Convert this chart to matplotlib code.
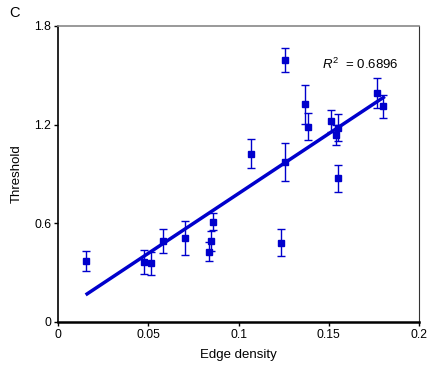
import matplotlib
matplotlib.use('Agg')
import matplotlib.pyplot as plt

plt.rcParams['font.family'] = ['Liberation Sans', 'DejaVu Sans']
plt.rcParams['mathtext.fontset'] = 'custom'
plt.rcParams['mathtext.it'] = 'Liberation Sans:italic'
plt.rcParams['mathtext.rm'] = 'Liberation Sans'

# values
edge_density = [0.0153, 0.0475, 0.0517, 0.0580, 0.0704, 0.0837, 0.0848, 0.0859,
                0.1067, 0.1234, 0.1256, 0.1256, 0.1367, 0.1383, 0.1511, 0.1540,
                0.1553, 0.1548, 0.1764, 0.1800]
threshold = [0.370, 0.364, 0.358, 0.491, 0.509, 0.428, 0.491, 0.610,
             1.024, 0.481, 1.592, 0.972, 1.323, 1.188, 1.222, 1.137,
             1.182, 0.873, 1.392, 1.311]
threshold_err = [0.060, 0.075, 0.070, 0.072, 0.103, 0.055, 0.060, 0.052,
                 0.087, 0.082, 0.073, 0.117, 0.117, 0.081, 0.065, 0.060,
                 0.083, 0.083, 0.090, 0.071]
fit_slope = 7.28
fit_intercept = 0.053
fit_range = [0.0153, 0.181]
r_squared = 0.6896

blue = '#0000cc'

fig = plt.figure(figsize=(4.33, 3.70), dpi=100)
ax = fig.add_axes([0.134, 0.130, 0.834, 0.800])

ax.errorbar(edge_density, threshold, yerr=threshold_err, fmt='s', color=blue,
            markersize=4.2, elinewidth=1, capsize=3, capthick=1, zorder=3)
fit_y = [fit_slope * x + fit_intercept for x in fit_range]
ax.plot(fit_range, fit_y, color=blue, linewidth=2.5, solid_capstyle='butt', zorder=4)

ax.text(0.1675, 1.566, r'$R^2$  = ' + f'{r_squared:.4f}', fontsize=9.5,
        ha='center', va='center')

ax.set_xlim(0, 0.2)
ax.set_ylim(0, 1.8)
ax.set_xticks([0, 0.05, 0.1, 0.15, 0.2])
ax.set_xticklabels(['0', '0.05', '0.1', '0.15', '0.2'])
ax.set_yticks([0, 0.6, 1.2, 1.8])
ax.set_yticklabels(['0', '0.6', '1.2', '1.8'])
ax.tick_params(labelsize=8.8, direction='out', length=3, width=1, pad=2)

ax.spines['bottom'].set_linewidth(1.8)
ax.spines['left'].set_linewidth(1.2)
ax.spines['top'].set_color('#888888')
ax.spines['top'].set_linewidth(1.2)
ax.spines['right'].set_color('#333333')
ax.spines['right'].set_linewidth(0.8)

ax.set_xlabel('Edge density', fontsize=9.5, labelpad=6)
ax.set_ylabel('Threshold', fontsize=9.5, labelpad=8)

fig.text(0.022, 0.965, 'C', fontsize=10.5, ha='left', va='center')

fig.savefig('out.png', dpi=100)
